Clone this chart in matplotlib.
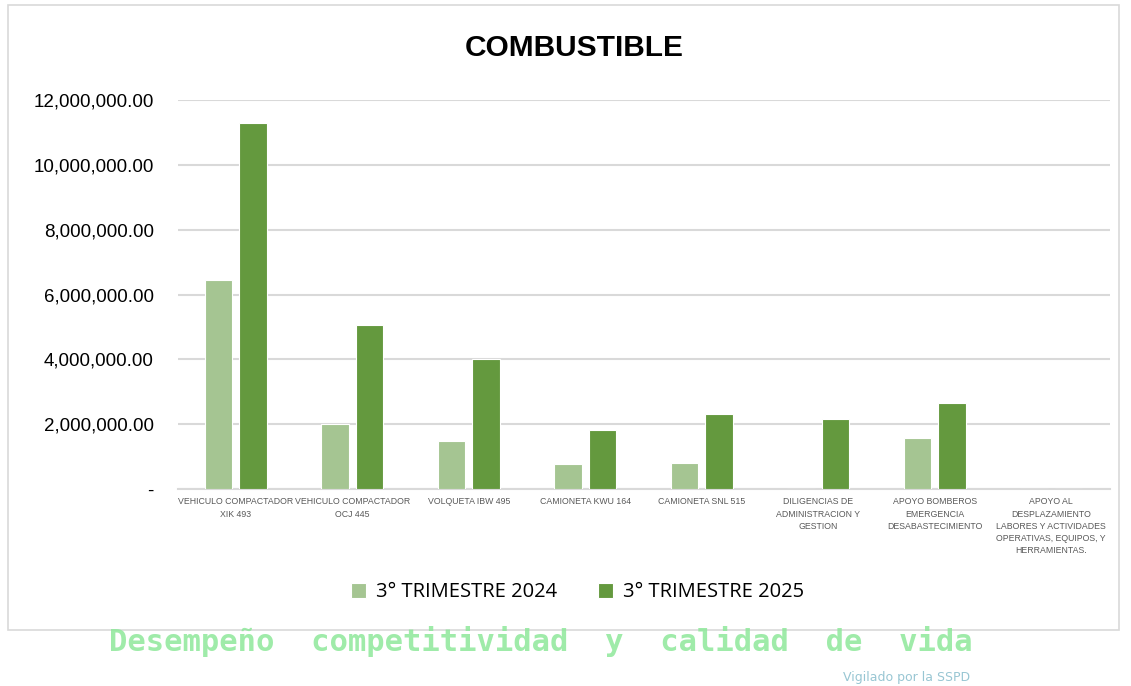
import numpy as np
import matplotlib.pyplot as plt
from matplotlib.patches import Rectangle
from matplotlib.ticker import FuncFormatter

# --------------------------------------------------
# Data
# --------------------------------------------------

categories = [
    "VEHICULO COMPACTADOR\nXIK 493",
    "VEHICULO COMPACTADOR\nOCJ 445",
    "VOLQUETA IBW 495",
    "CAMIONETA KWU 164",
    "CAMIONETA SNL 515",
    "DILIGENCIAS DE\nADMINISTRACION Y\nGESTION",
    "APOYO BOMBEROS\nEMERGENCIA\nDESABASTECIMIENTO",
    "APOYO AL\nDESPLAZAMIENTO\nLABORES Y ACTIVIDADES\nOPERATIVAS, EQUIPOS, Y\nHERRAMIENTAS.",
]

q3_2024 = [6450000, 2000000, 1480000, 770000, 800000, 0, 1570000, 0]
q3_2025 = [11290000, 5060000, 4010000, 1820000, 2310000, 2160000, 2650000, 0]

series_labels = ["3° TRIMESTRE 2024", "3° TRIMESTRE 2025"]
y_ticks = [0, 2000000, 4000000, 6000000, 8000000, 10000000, 12000000]

narrow = ["Liberation Sans Narrow", "Liberation Sans", "DejaVu Sans"]

# --------------------------------------------------
# Figure
# --------------------------------------------------

fig = plt.figure(figsize=(11.31, 6.86), dpi=100)
ax = fig.add_axes([0.157, 0.287, 0.824, 0.567])

x = np.arange(len(categories))
w = 0.235
gap = 0.06

ax.bar(x - (w + gap) / 2, q3_2024, width=w, color="#a5c592",
       edgecolor="white", linewidth=0.8, label=series_labels[0], zorder=3)
ax.bar(x + (w + gap) / 2, q3_2025, width=w, color="#64993e",
       edgecolor="white", linewidth=0.8, label=series_labels[1], zorder=3)

ax.set_xlim(-0.5, len(categories) - 0.5)
ax.set_ylim(0, 12000000)
ax.set_yticks(y_ticks)
ax.yaxis.set_major_formatter(
    FuncFormatter(lambda v, p: "-" if v == 0 else f"{v:,.2f}"))
ax.grid(axis="y", color="#d9d9d9", linewidth=1.5, zorder=0)
ax.set_axisbelow(True)

for s in ["top", "right", "left"]:
    ax.spines[s].set_visible(False)
ax.spines["bottom"].set_color("#d9d9d9")
ax.spines["bottom"].set_linewidth(1.5)

ax.tick_params(axis="both", length=0)
ax.tick_params(axis="y", pad=17)
ax.set_yticklabels(ax.get_yticklabels(), family=narrow, fontsize=13.5,
                   color="#000000")
ax.set_xticks(x)
ax.set_xticklabels(categories, family=narrow, fontsize=6.3,
                   color="#595959", linespacing=1.45, va="top")
ax.tick_params(axis="x", pad=6)

fig.text(0.508, 0.93, "COMBUSTIBLE", ha="center", va="center",
         family=narrow, fontsize=21.5, fontweight="bold")

ax.legend(loc="center", bbox_to_anchor=(0.429, -0.265), ncol=2, frameon=False,
          prop={"family": "Open Sans", "size": 14.5}, handlelength=0.75,
          handleheight=0.75, columnspacing=2.0, handletextpad=0.5)

# chart border
fig.patches.append(Rectangle((0.007, 0.082), 0.982, 0.911,
                             transform=fig.transFigure, fill=False,
                             edgecolor="#d9d9d9", linewidth=1.2))

# watermark footer
fig.text(0.478, 0.065, "Desempeño  competitividad  y  calidad  de  vida",
         ha="center", va="center", fontsize=22, fontweight="bold",
         family="DejaVu Sans Mono", color="#8ee89a", alpha=0.85)
fig.text(0.858, 0.013, "Vigilado por la SSPD", ha="right", va="center",
         fontsize=9, color="#7fb8c8", alpha=0.8)

fig.savefig("out.png", dpi=100)
